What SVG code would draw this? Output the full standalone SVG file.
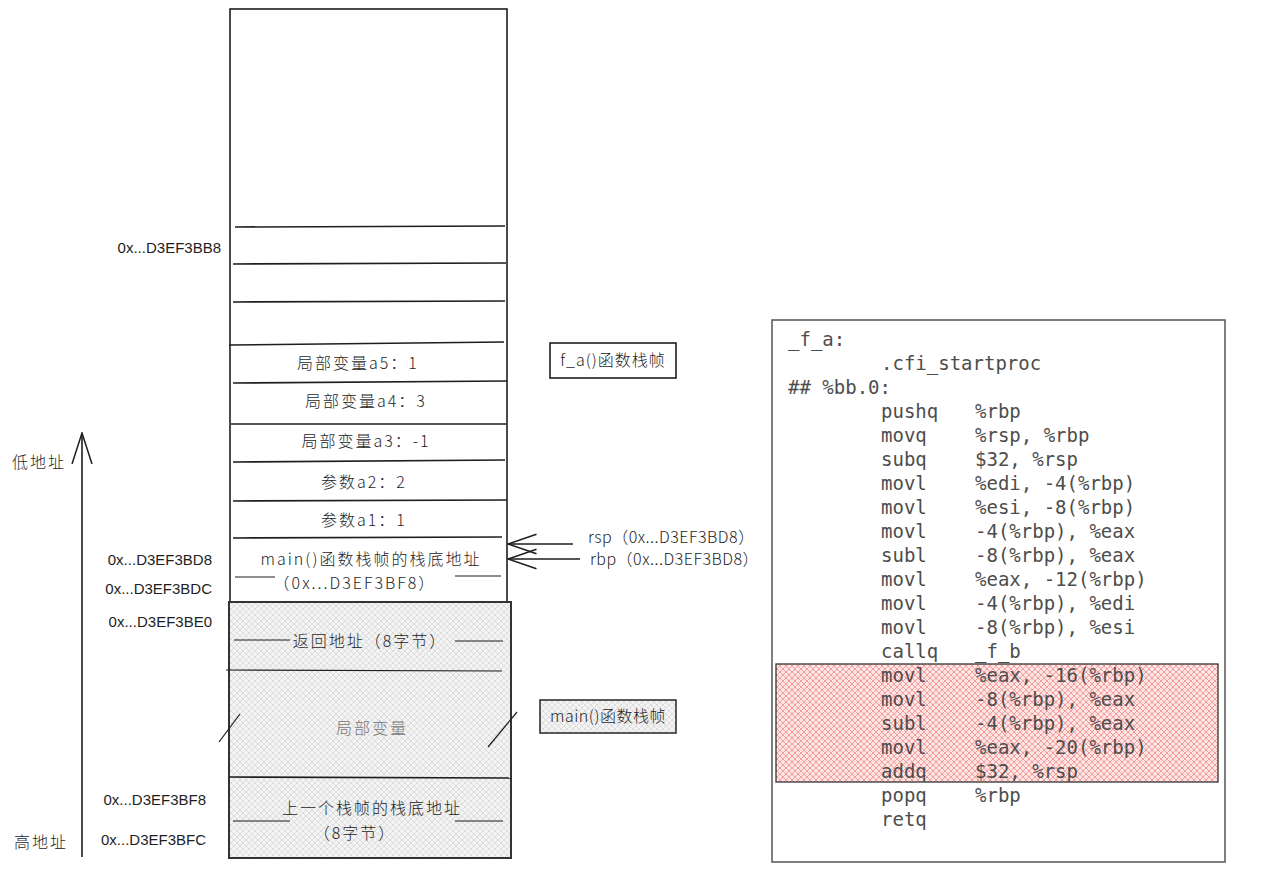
<svg xmlns="http://www.w3.org/2000/svg" width="1266" height="874" viewBox="0 0 1266 874">
<defs>
<pattern id="hatchGray" width="6" height="6" patternUnits="userSpaceOnUse">
<rect width="6" height="6" fill="#f3f3f3"/>
<path d="M0,6 L6,0 M0,0 L6,6" stroke="#d4d4d4" stroke-width="0.7"/>
</pattern>
<pattern id="hatchRed" width="6" height="6" patternUnits="userSpaceOnUse">
<rect width="6" height="6" fill="#ffe4e4"/>
<path d="M0,6 L6,0 M0,0 L6,6" stroke="#f28b8b" stroke-width="0.8"/>
</pattern>
<marker id="openArrow" viewBox="0 0 20 20" refX="19" refY="10" markerWidth="30" markerHeight="30" markerUnits="userSpaceOnUse" orient="auto">
<path d="M0,3.5 L19,10 L0,16.5" fill="none" stroke="#1e1e1e" stroke-width="1.1"/>
</marker>
<marker id="bigArrow" viewBox="0 0 32 22" refX="31" refY="11" markerWidth="32" markerHeight="22" markerUnits="userSpaceOnUse" orient="auto">
<path d="M0,1 L31,11 L0,21" fill="none" stroke="#1e1e1e" stroke-width="1.5"/>
</marker>
</defs>
<style>
.ln{stroke:#1e1e1e;stroke-width:1.6;fill:none}
.thin{stroke:#1e1e1e;stroke-width:1.2;fill:none}
.hand{font-family:"Noto Sans CJK SC","Liberation Sans",sans-serif;font-size:16px;fill:#1e1e1e;font-weight:300;letter-spacing:2px}
.addr{font-family:"Liberation Sans","Noto Sans",sans-serif;font-size:15px;fill:#1e1e1e;text-anchor:end}
.ctr{text-anchor:middle}
.code{font-family:"DejaVu Sans Mono","Liberation Mono",monospace;font-size:19px;fill:#4d4d4d}
</style>
<rect width="1266" height="874" fill="#ffffff"/>

<g id="stack">
<rect x="230" y="9" width="277" height="849" class="ln"/>
<line x1="235" y1="227" x2="505" y2="226" class="ln"/>
<line x1="233" y1="264" x2="506" y2="263" class="ln"/>
<line x1="233" y1="302" x2="505" y2="301" class="ln"/>
<line x1="229" y1="345" x2="504" y2="342" class="ln"/>
<line x1="233" y1="383" x2="507" y2="381" class="ln"/>
<line x1="231" y1="424" x2="506" y2="424" class="ln"/>
<line x1="233" y1="462" x2="505" y2="460" class="ln"/>
<line x1="233" y1="501" x2="507" y2="500" class="ln"/>
<line x1="233" y1="538" x2="502" y2="537" class="ln"/>
</g>

<g id="cells">
<text x="358" y="369" class="hand ctr">局部变量a5：1</text>
<text x="366" y="407" class="hand ctr">局部变量a4：3</text>
<text x="366" y="447" class="hand ctr">局部变量a3：-1</text>
<text x="364" y="488" class="hand ctr">参数a2：2</text>
<text x="364" y="526" class="hand ctr">参数a1：1</text>
<text x="371" y="565" class="hand ctr">main()函数栈帧的栈底地址</text>
<text x="355" y="589" class="hand ctr">（0x...D3EF3BF8）</text>
<line x1="235" y1="577" x2="275" y2="577" class="thin"/>
<line x1="455" y1="576" x2="501" y2="576" class="thin"/>
</g>

<g id="main-frame">
<rect x="229" y="602" width="282" height="256" fill="url(#hatchGray)" stroke="#333" stroke-width="2"/>
<line x1="226" y1="670" x2="502" y2="671" class="thin"/>
<line x1="229" y1="777" x2="512" y2="778" class="ln"/>
<text x="370" y="647" class="hand ctr">返回地址（8字节）</text>
<line x1="234" y1="640" x2="290" y2="640" class="thin"/>
<line x1="455" y1="641" x2="503" y2="641" class="thin"/>
<text x="372" y="734" class="hand ctr" style="fill:#777">局部变量</text>
<line x1="219" y1="742" x2="240" y2="714" class="thin"/>
<line x1="488" y1="747" x2="517" y2="712" class="thin"/>
<text x="372" y="814" class="hand ctr">上一个栈帧的栈底地址</text>
<text x="355" y="839" class="hand ctr">（8字节）</text>
<line x1="233" y1="821" x2="290" y2="821" class="thin"/>
<line x1="455" y1="821" x2="503" y2="821" class="thin"/>
</g>

<g id="addresses">
<text x="221" y="253" class="addr">0x...D3EF3BB8</text>
<text x="212" y="565" class="addr">0x...D3EF3BD8</text>
<text x="212" y="594" class="addr">0x...D3EF3BDC</text>
<text x="212" y="627" class="addr">0x...D3EF3BE0</text>
<text x="206" y="805" class="addr">0x...D3EF3BF8</text>
<text x="206" y="845" class="addr">0x...D3EF3BFC</text>
<text x="12" y="468" class="hand">低地址</text>
<text x="14" y="848" class="hand">高地址</text>
</g>

<g id="label-fa">
<rect x="550" y="343" width="126" height="35" class="ln"/>
<text x="613" y="366" class="hand ctr" style="letter-spacing:1px">f_a()函数栈帧</text>
</g>

<g id="label-main">
<rect x="540" y="700" width="136" height="33" fill="url(#hatchGray)" stroke="#333" stroke-width="1.6"/>
<text x="608" y="722" class="hand ctr" style="letter-spacing:0.5px">main()函数栈帧</text>
</g>

<g id="pointers">
<text x="588" y="543" class="hand" style="letter-spacing:0.5px">rsp（0x...D3EF3BD8）</text>
<text x="590" y="565" class="hand" style="letter-spacing:0.5px">rbp（0x...D3EF3BD8）</text>
</g>

<g id="connectors">
<line x1="82" y1="857" x2="82" y2="433" class="ln" marker-end="url(#bigArrow)"/>
<line x1="573" y1="544" x2="508" y2="544" class="ln" marker-end="url(#openArrow)"/>
<line x1="580" y1="559" x2="508" y2="559" class="ln" marker-end="url(#openArrow)"/>
</g>

<g id="code">
<rect x="772" y="320" width="453" height="542" fill="#ffffff" stroke="#555" stroke-width="1.5"/>
<rect x="776" y="664" width="442" height="118" fill="url(#hatchRed)" stroke="#333" stroke-width="1.3"/>
<text class="code">
<tspan x="788" y="346">_f_a:</tspan>
<tspan x="881" y="370">.cfi_startproc</tspan>
<tspan x="788" y="394">## %bb.0:</tspan>
<tspan x="881" y="418">pushq</tspan><tspan x="975" y="418">%rbp</tspan>
<tspan x="881" y="442">movq</tspan><tspan x="975" y="442">%rsp, %rbp</tspan>
<tspan x="881" y="466">subq</tspan><tspan x="975" y="466">$32, %rsp</tspan>
<tspan x="881" y="490">movl</tspan><tspan x="975" y="490">%edi, -4(%rbp)</tspan>
<tspan x="881" y="514">movl</tspan><tspan x="975" y="514">%esi, -8(%rbp)</tspan>
<tspan x="881" y="538">movl</tspan><tspan x="975" y="538">-4(%rbp), %eax</tspan>
<tspan x="881" y="562">subl</tspan><tspan x="975" y="562">-8(%rbp), %eax</tspan>
<tspan x="881" y="586">movl</tspan><tspan x="975" y="586">%eax, -12(%rbp)</tspan>
<tspan x="881" y="610">movl</tspan><tspan x="975" y="610">-4(%rbp), %edi</tspan>
<tspan x="881" y="634">movl</tspan><tspan x="975" y="634">-8(%rbp), %esi</tspan>
<tspan x="881" y="658">callq</tspan><tspan x="975" y="658">_f_b</tspan>
<tspan x="881" y="682">movl</tspan><tspan x="975" y="682">%eax, -16(%rbp)</tspan>
<tspan x="881" y="706">movl</tspan><tspan x="975" y="706">-8(%rbp), %eax</tspan>
<tspan x="881" y="730">subl</tspan><tspan x="975" y="730">-4(%rbp), %eax</tspan>
<tspan x="881" y="754">movl</tspan><tspan x="975" y="754">%eax, -20(%rbp)</tspan>
<tspan x="881" y="778">addq</tspan><tspan x="975" y="778">$32, %rsp</tspan>
<tspan x="881" y="802">popq</tspan><tspan x="975" y="802">%rbp</tspan>
<tspan x="881" y="826">retq</tspan>
</text>
</g>
</svg>
